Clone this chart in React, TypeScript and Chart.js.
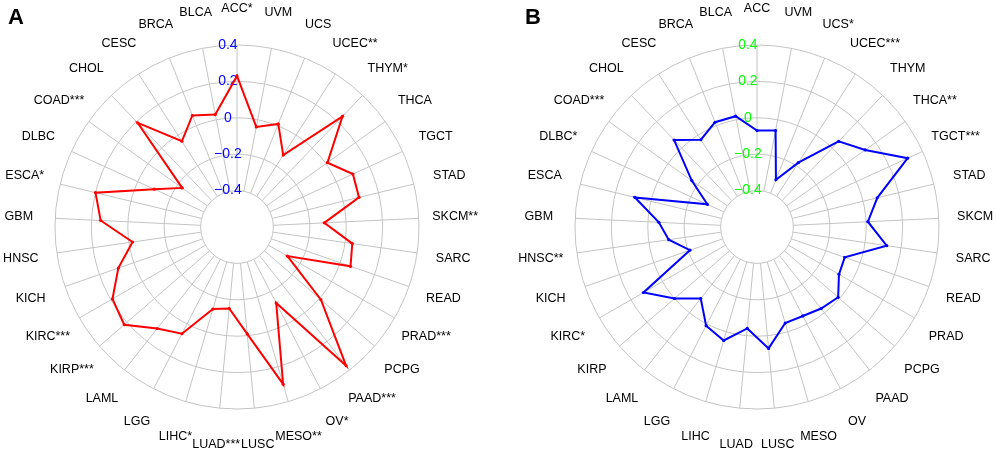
import React, { useEffect, useRef } from 'react';
import { Chart, registerables } from 'chart.js';

Chart.register(...registerables);

// ---------- data ----------
const categoriesA = ['ACC*', 'UVM', 'UCS', 'UCEC**', 'THYM*', 'THCA', 'TGCT', 'STAD', 'SKCM**', 'SARC', 'READ', 'PRAD***', 'PCPG', 'PAAD***', 'OV*', 'MESO**', 'LUSC', 'LUAD***', 'LIHC*', 'LGG', 'LAML', 'KIRP***', 'KIRC***', 'KICH', 'HNSC', 'GBM', 'ESCA*', 'DLBC', 'COAD***', 'CHOL', 'CESC', 'BRCA', 'BLCA'];
const valuesA = [0.23, -0.04, 0.01, -0.13, 0.24, 0.01, 0.10, 0.09, -0.12, 0.04, 0.06, -0.28, 0.01, 0.37, -0.13, 0.30, -0.01, -0.15, -0.13, 0.06, 0.11, 0.22, 0.19, 0.09, -0.02, 0.15, 0.20, -0.10, -0.23, 0.19, -0.04, 0.06, 0.03];

const categoriesB = ['ACC', 'UVM', 'UCS*', 'UCEC***', 'THYM', 'THCA**', 'TGCT***', 'STAD', 'SKCM', 'SARC', 'READ', 'PRAD', 'PCPG', 'PAAD', 'OV', 'MESO', 'LUSC', 'LUAD', 'LIHC', 'LGG', 'LAML', 'KIRP', 'KIRC*', 'KICH', 'HNSC**', 'GBM', 'ESCA', 'DLBC*', 'COAD***', 'CHOL', 'CESC', 'BRCA', 'BLCA'];
const valuesB = [-0.07, -0.06, -0.32, -0.18, 0.05, 0.13, 0.31, 0.08, 0.01, 0.12, -0.09, -0.08, -0.01, -0.03, -0.05, -0.05, 0.07, -0.04, 0.05, 0.01, -0.10, 0.00, 0.12, -0.21, -0.11, -0.06, 0.09, -0.30, -0.16, 0.06, -0.03, 0.02, 0.02];

const tickValues = [-0.4, -0.2, 0, 0.2, 0.4];
const tickLabels = ['\u22120.4', '\u22120.2', '0', '0.2', '0.4'];
const axisMin = -0.6;
const axisMax = 0.4;
const axisStep = 0.2;

// ---------- styles ----------
const GRID = '#c4c4c4';
const FONT = '"Liberation Sans", Arial, Helvetica, sans-serif';

const radarDecor = {
  id: 'radarDecor',
  beforeDatasetsDraw(chart: any, _args: any, opts: any) {
    const s = chart.scales.r;
    const ctx = chart.ctx;
    const labels: string[] = chart.data.labels;
    const n = labels.length;
    const rIn = s.getDistanceFromCenterForValue(opts.tickValues[0]);
    const rOut = s.getDistanceFromCenterForValue(s.max);
    ctx.save();
    // spokes
    ctx.strokeStyle = GRID;
    ctx.lineWidth = 1;
    for (let i = 0; i < n; i++) {
      const a = s.getPointPosition(i, rIn);
      const b = s.getPointPosition(i, rOut);
      ctx.beginPath();
      ctx.moveTo(a.x, a.y);
      ctx.lineTo(b.x, b.y);
      ctx.stroke();
    }
    // category labels
    ctx.fillStyle = '#000';
    ctx.font = '12.5px ' + FONT;
    ctx.textAlign = 'center';
    ctx.textBaseline = 'middle';
    labels.forEach((lab, i) => {
      const p = s.getPointPosition(i, rOut * 1.2);
      ctx.fillText(lab, p.x, p.y);
    });
    // tick labels
    ctx.fillStyle = opts.tickColor;
    ctx.font = '14px ' + FONT;
    opts.tickValues.forEach((v: number, k: number) => {
      const r = s.getDistanceFromCenterForValue(v);
      ctx.fillText(opts.tickLabels[k], s.xCenter - 0.05 * rOut, s.yCenter - r);
    });
    ctx.restore();
  },
};

type PanelProps = {
  labels: string[];
  values: number[];
  lineColor: string;
  tickColor: string;
  left: number;
  padLeft: number;
  letter: string;
  letterLeft: number;
};

function RadarPanel(p: PanelProps) {
  const ref = useRef<HTMLCanvasElement | null>(null);
  useEffect(() => {
    if (!ref.current) return;
    const size = 364;
    const chart = new Chart(ref.current, {
      type: 'radar',
      data: {
        labels: p.labels,
        datasets: [
          {
            data: p.values,
            borderColor: p.lineColor,
            backgroundColor: p.lineColor,
            borderWidth: 2,
            pointRadius: 1.6,
            pointBorderWidth: 0,
            pointBackgroundColor: p.lineColor,
            fill: false,
            tension: 0,
          },
        ],
      },
      options: {
        animation: false,
        responsive: false,
        events: [],
        layout: {
          padding: { left: p.padLeft, right: 498 - p.padLeft - size, top: 45, bottom: 453 - 45 - size },
        },
        plugins: {
          legend: { display: false },
          tooltip: { enabled: false },
          radarDecor: { tickColor: p.tickColor, tickValues, tickLabels },
        } as any,
        scales: {
          r: {
            min: axisMin,
            max: axisMax,
            beginAtZero: false,
            ticks: { display: false, stepSize: axisStep },
            grid: { circular: true, color: GRID, lineWidth: 1 },
            angleLines: { display: false },
            pointLabels: { display: false },
          },
        },
      },
      plugins: [radarDecor],
    });
    return () => chart.destroy();
  }, []);
  return (
    <div style={{ position: 'absolute', left: p.left, top: 0, width: 498, height: 453 }}>
      <canvas ref={ref} width={498} height={453} style={{ display: 'block' }} />
      <div
        style={{
          position: 'absolute',
          left: p.letterLeft,
          top: 4,
          font: 'bold 22px ' + FONT,
          lineHeight: 'normal',
          color: '#000',
        }}
      >
        {p.letter}
      </div>
    </div>
  );
}

export default function App() {
  return (
    <div style={{ position: 'fixed', left: 0, top: 0, width: 996, height: 453, background: '#fff', overflow: 'hidden' }}>
      <RadarPanel labels={categoriesA} values={valuesA} lineColor="#ff0000" tickColor="#0000ff" left={0} padLeft={55} letter="A" letterLeft={8} />
      <RadarPanel labels={categoriesB} values={valuesB} lineColor="#0000ff" tickColor="#00ff00" left={498} padLeft={77} letter="B" letterLeft={27} />
    </div>
  );
}
